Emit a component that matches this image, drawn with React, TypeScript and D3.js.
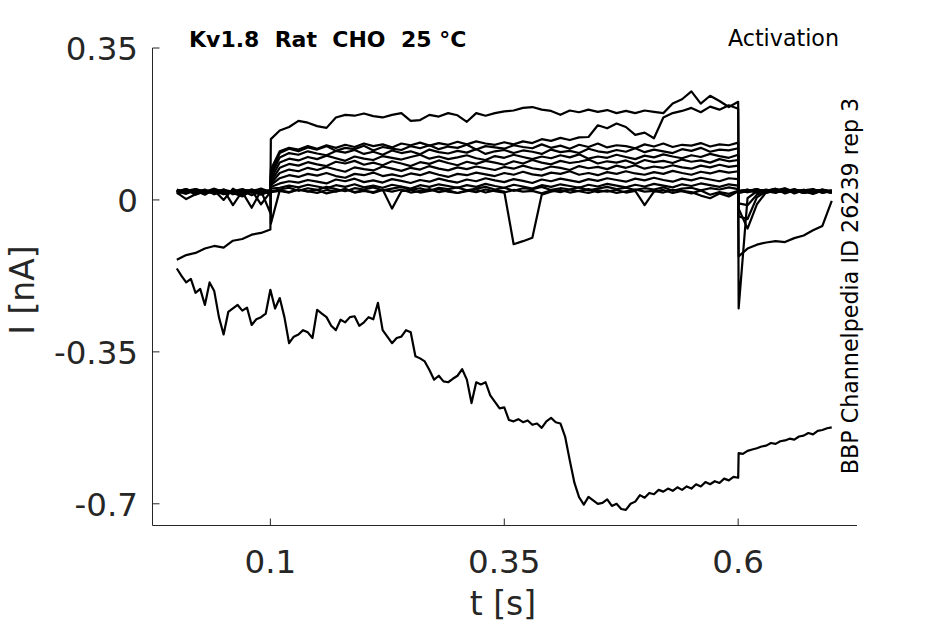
import React from 'react';
import * as d3 from 'd3';

// sampling grid: 10 ms steps, with an extra sample just after each voltage step edge
const T = [
  ...d3.range(0, 0.1001, 0.01),
  0.1005,
  ...d3.range(0.11, 0.6001, 0.01),
  0.6005,
  ...d3.range(0.61, 0.7001, 0.01),
];
// finer 5 ms grid for the drifting sweep
const TF = [...d3.range(0, 0.6001, 0.005), 0.6005, ...d3.range(0.605, 0.7001, 0.005)];

const xTicks = [0.1, 0.35, 0.6];
const yTicks = [0.35, 0, -0.35, -0.7];

// each sweep on T: 11 pre-step values, onset, 50 step values, offset, 10 tail values
const traceA = [
  0.024, 0.017, 0.022, 0.012, 0.025, 0.019, 0.015, 0.023, 0.02, 0.026, 0.018,
  0.14,
  0.16, 0.168, 0.182, 0.178, 0.17, 0.166, 0.19, 0.196, 0.194, 0.199,
  0.193, 0.19, 0.196, 0.2, 0.182, 0.184, 0.196, 0.192, 0.2, 0.195,
  0.18, 0.2, 0.194, 0.2, 0.204, 0.206, 0.212, 0.214, 0.208, 0.205,
  0.196, 0.206, 0.202, 0.208, 0.203, 0.207, 0.2, 0.205, 0.2, 0.206,
  0.203, 0.2, 0.222, 0.232, 0.25, 0.222, 0.24, 0.228, 0.214, 0.226,
  0.022,
  0.02, 0.025, 0.018, 0.022, 0.027, 0.019, 0.023, 0.016, 0.024, 0.02,
];

const traceB = [
  0.019, 0.025, 0.016, 0.022, 0.018, 0.024, 0.013, 0.021, 0.017, 0.023, 0.02,
  0.07,
  0.112, 0.12, 0.116, 0.124, 0.118, 0.126, 0.12, 0.127, 0.122, 0.13,
  0.124, 0.128, 0.121, 0.13, 0.126, 0.132, 0.125, 0.131, 0.127, 0.134,
  0.128, 0.135, 0.13, 0.127, 0.133, 0.128, 0.135, 0.131, 0.14, 0.136,
  0.143, 0.138, 0.144, 0.145, 0.172, 0.165, 0.176, 0.168, 0.15, 0.155,
  0.142, 0.19, 0.2, 0.205, 0.212, 0.202, 0.215, 0.208, 0.218, 0.21,
  0.02,
  0.023, 0.017, 0.021, 0.026, 0.015, 0.022, 0.019, 0.024, 0.018, 0.021,
];

const traceC1 = [
  0.021, 0.016, 0.024, 0.019, 0.022, 0.015, 0.02, 0.025, 0.017, 0.022, 0.019,
  0.06,
  0.108, 0.118, 0.112, 0.121, 0.116, 0.124, 0.113, 0.12, 0.117, 0.125,
  0.114, 0.122, 0.118, 0.115, 0.124, 0.119, 0.126, 0.117, 0.123, 0.12,
  0.127, 0.116, 0.124, 0.121, 0.118, 0.126, 0.122, 0.119, 0.128, 0.12,
  0.125, 0.118, 0.127, 0.122, 0.13, 0.121, 0.126, 0.124, 0.119, 0.128,
  0.123, 0.13, 0.122, 0.127, 0.125, 0.131, 0.123, 0.128, 0.126, 0.132,
  0.021,
  0.018, 0.023, 0.02, 0.025, 0.017, 0.022, 0.019, 0.024, 0.016, 0.021,
];

const traceC2 = [
  0.02, 0.014, 0.023, 0.018, 0.026, 0.016, 0.021, 0.012, 0.024, 0.019, 0.022,
  0.055,
  0.098, 0.108, 0.104, 0.112, 0.107, 0.103, 0.113, 0.109, 0.115, 0.106,
  0.111, 0.104, 0.114, 0.108, 0.112, 0.105, 0.116, 0.11, 0.107, 0.113,
  0.109, 0.117, 0.106, 0.112, 0.115, 0.108, 0.114, 0.111, 0.106, 0.116,
  0.11, 0.113, 0.108, 0.118, 0.112, 0.109, 0.115, 0.111, 0.119, 0.11,
  0.116, 0.112, 0.108, 0.117, 0.113, 0.12, 0.111, 0.116, 0.114, 0.119,
  0.019,
  0.024, 0.017, 0.022, 0.02, 0.026, 0.015, 0.023, 0.019, 0.021, 0.017,
];

const traceC3 = [
  0.017, 0.002, 0.013, 0.02, 0.015, 0.024, 0.018, 0.021, 0.011, 0.02, 0.016,
  0.048,
  0.086, 0.095, 0.091, 0.099, 0.094, 0.102, 0.096, 0.09, 0.1, 0.095,
  0.092, 0.101, 0.097, 0.093, 0.099, 0.104, 0.095, 0.1, 0.094, 0.098,
  0.103, 0.096, 0.092, 0.101, 0.097, 0.104, 0.099, 0.094, 0.1, 0.096,
  0.103, 0.098, 0.105, 0.095, 0.1, 0.097, 0.104, 0.099, 0.094, 0.102,
  0.098, 0.105, 0.1, 0.096, 0.103, 0.099, 0.106, 0.101, 0.097, 0.104,
  0.017,
  0.021, 0.025, 0.016, 0.022, 0.018, 0.023, 0.02, 0.014, 0.022, 0.019,
];

const traceC4 = [
  0.023, 0.018, 0.021, 0.015, 0.022, 0.0, 0.026, 0.014, 0.02, 0.017, 0.023,
  0.042,
  0.074, 0.083, 0.079, 0.087, 0.082, 0.078, 0.088, 0.084, 0.09, 0.081,
  0.086, 0.08, 0.089, 0.084, 0.078, 0.087, 0.083, 0.091, 0.085, 0.08,
  0.088, 0.083, 0.09, 0.086, 0.081, 0.089, 0.084, 0.092, 0.086, 0.082,
  0.09, 0.085, 0.088, 0.093, 0.084, 0.089, 0.086, 0.091, 0.083, 0.092,
  0.087, 0.09, 0.085, 0.093, 0.088, 0.091, 0.086, 0.094, 0.089, 0.092,
  0.021,
  0.018, 0.023, 0.02, 0.016, 0.024, 0.019, 0.022, 0.025, 0.017, 0.021,
];

const traceC5 = [
  0.015, 0.021, 0.018, 0.024, 0.013, 0.02, 0.016, 0.022, 0.019, 0.012, 0.02,
  0.038,
  0.062, 0.07, 0.066, 0.074, 0.069, 0.076, 0.07, 0.065, 0.075, 0.071,
  0.068, 0.077, 0.072, 0.067, 0.074, 0.07, 0.078, 0.072, 0.068, 0.075,
  0.071, 0.077, 0.073, 0.069, 0.076, 0.072, 0.079, 0.073, 0.07, 0.077,
  0.074, 0.069, 0.078, 0.073, 0.076, 0.071, 0.079, 0.074, 0.08, 0.072,
  0.077, 0.074, 0.08, 0.075, 0.072, 0.079, 0.075, 0.081, 0.076, 0.079,
  -0.008,
  -0.012, 0.012, 0.022, 0.018, 0.024, 0.017, 0.021, 0.019, 0.023, 0.018,
];

const traceC6 = [
  0.021, 0.016, 0.025, 0.019, 0.017, 0.023, -0.012, 0.02, 0.022, 0.018, 0.015,
  0.034,
  0.05, 0.057, 0.053, 0.06, 0.056, 0.062, 0.055, 0.051, 0.06, 0.057,
  0.063, 0.055, 0.059, 0.054, 0.061, 0.057, 0.064, 0.058, 0.053, 0.06,
  0.057, 0.063, 0.059, 0.055, 0.062, 0.058, 0.065, 0.059, 0.056, 0.063,
  0.06, 0.066, 0.058, 0.062, 0.057, 0.064, 0.06, 0.066, 0.061, 0.058,
  0.064, 0.06, 0.067, 0.062, 0.058, 0.065, 0.061, 0.067, 0.063, 0.066,
  0.016,
  0.02, 0.024, 0.017, 0.022, 0.019, 0.025, 0.016, 0.021, 0.018, 0.023,
];

const traceC7 = [
  0.018, 0.024, 0.012, 0.02, 0.023, 0.016, 0.021, 0.018, -0.018, 0.021, 0.019,
  0.03,
  0.038, 0.043, 0.04, 0.046, 0.042, 0.038, 0.047, 0.043, 0.049, 0.041,
  0.045, 0.04, 0.048, 0.044, 0.039, 0.046, 0.042, 0.049, 0.044, 0.04,
  0.047, 0.043, 0.05, 0.045, 0.041, 0.048, 0.044, 0.039, 0.047, 0.043,
  0.049, 0.045, 0.041, 0.048, 0.044, 0.05, 0.046, 0.042, 0.049, 0.045,
  0.051, 0.046, 0.042, 0.049, 0.045, 0.051, 0.047, 0.043, 0.05, 0.048,
  -0.038,
  -0.044, 0.006, 0.02, 0.024, 0.018, 0.022, 0.016, 0.023, 0.02, 0.017,
];

const traceC8 = [
  0.022, 0.017, 0.02, 0.014, 0.023, 0.019, 0.016, 0.024, 0.018, 0.021, -0.03,
  0.026,
  0.028, 0.033, 0.029, 0.035, 0.031, 0.027, 0.034, 0.03, 0.036, 0.029,
  0.033, 0.028, 0.035, 0.031, 0.026, 0.034, 0.03, 0.036, 0.032, 0.028,
  0.034, 0.03, 0.037, 0.032, 0.028, 0.035, 0.031, 0.026, 0.034, 0.03,
  0.036, 0.032, 0.028, 0.035, 0.031, 0.037, 0.033, 0.029, 0.035, 0.031,
  0.037, 0.033, 0.029, 0.036, 0.032, 0.038, 0.034, 0.03, 0.036, 0.033,
  -0.02,
  -0.066, -0.01, 0.018, 0.022, 0.017, 0.024, 0.02, 0.015, 0.022, 0.019,
];

// sweep with the transient dip at ~0.36 s
const traceD = [
  0.016, 0.021, 0.025, 0.017, 0.02, 0.013, 0.022, 0.018, 0.024, 0.016, 0.021,
  0.018,
  0.021, 0.017, 0.024, 0.019, 0.023, 0.015, 0.02, 0.025, 0.018, 0.022,
  0.016, 0.023, 0.019, 0.024, 0.017, 0.021, 0.025, 0.018, 0.022, 0.016,
  0.02, 0.024, 0.017, 0.022, 0.019, -0.102, -0.095, -0.087, 0.012, 0.019,
  0.023, 0.017, 0.021, 0.025, 0.018, 0.022, 0.016, 0.02, 0.024, 0.019,
  0.021, 0.017, 0.023, 0.02, 0.015, 0.022, 0.012, 0.018, 0.014, 0.021,
  0.02,
  0.023, 0.017, 0.021, 0.025, 0.019, 0.022, 0.016, 0.02, 0.024, 0.018,
];

// sweep starting below zero, with the slow tail after the step
const traceE = [
  -0.138, -0.127, -0.122, -0.112, -0.106, -0.11, -0.094, -0.09, -0.08, -0.076, -0.068,
  0.02,
  0.024, 0.028, 0.021, 0.027, 0.023, 0.03, 0.025, 0.02, 0.027, 0.024,
  0.029, 0.022, 0.026, 0.03, 0.023, 0.027, 0.021, 0.028, 0.025, 0.029,
  0.022, 0.026, 0.03, 0.024, 0.028, 0.021, 0.027, 0.025, 0.03, 0.023,
  0.027, 0.024, 0.029, 0.022, 0.026, 0.03, 0.025, 0.028, 0.023, 0.027,
  0.024, 0.029, 0.021, 0.026, 0.028, 0.022, 0.027, 0.024, 0.029, 0.025,
  -0.13,
  -0.112, -0.103, -0.098, -0.095, -0.097, -0.088, -0.082, -0.07, -0.06, -0.002,
];

// baseline sweep with the tail spike at 0.6 s
const traceG = [
  0.019, 0.025, 0.014, 0.021, 0.018, 0.023, 0.016, 0.008, 0.022, -0.01, 0.018,
  -0.055,
  0.022, 0.018, 0.024, 0.02, 0.016, 0.023, 0.019, 0.025, 0.017, 0.021,
  0.018, 0.024, -0.02, 0.02, 0.023, 0.017, 0.021, 0.025, 0.019, 0.016,
  0.022, 0.018, 0.024, 0.02, 0.017, 0.023, 0.019, 0.021, 0.015, 0.022,
  0.018, 0.024, 0.02, 0.016, 0.022, 0.019, 0.023, 0.017, 0.021, -0.012,
  0.019, 0.023, 0.016, 0.021, 0.018, 0.01, 0.004, 0.015, 0.008, 0.02,
  -0.25,
  0.004, 0.02, 0.024, 0.018, 0.022, 0.017, 0.023, 0.019, 0.021, 0.016,
];

// drifting sweep on TF (5 ms): 121 values to 0.6 s, offset, 20 tail values
const traceF = [
  -0.158, -0.175, -0.19, -0.182, -0.214, -0.205, -0.242, -0.19, -0.21, -0.27,
  -0.31, -0.258, -0.25, -0.242, -0.255, -0.248, -0.288, -0.275, -0.27, -0.262,
  -0.207, -0.25, -0.226, -0.27, -0.33, -0.315, -0.31, -0.3, -0.305, -0.318,
  -0.253, -0.262, -0.27, -0.29, -0.3, -0.276, -0.282, -0.27, -0.268, -0.29,
  -0.282, -0.27, -0.275, -0.237, -0.3, -0.315, -0.33, -0.318, -0.315, -0.3,
  -0.305, -0.36, -0.365, -0.372, -0.392, -0.414, -0.405, -0.418, -0.42, -0.412,
  -0.405, -0.39, -0.414, -0.468, -0.42, -0.425, -0.42, -0.45, -0.465, -0.48,
  -0.478, -0.507, -0.51, -0.505, -0.512, -0.508, -0.518, -0.515, -0.525, -0.51,
  -0.502, -0.512, -0.515, -0.545, -0.6, -0.652, -0.685, -0.702, -0.684, -0.692,
  -0.7, -0.698, -0.69, -0.705, -0.7, -0.712, -0.714, -0.7, -0.695, -0.68,
  -0.686, -0.675, -0.678, -0.668, -0.672, -0.665, -0.67, -0.662, -0.668, -0.66,
  -0.665, -0.655, -0.66, -0.65, -0.655, -0.648, -0.652, -0.642, -0.646, -0.638,
  -0.64,
  -0.583,
  -0.585, -0.578, -0.575, -0.572, -0.568, -0.566, -0.56, -0.562, -0.556, -0.554,
  -0.55, -0.552, -0.545, -0.543, -0.537, -0.54, -0.532, -0.53, -0.526, -0.524,
];

const sweeps: [number[], number[]][] = [
  [T, traceA], [T, traceB], [T, traceC1], [T, traceC2], [T, traceC3], [T, traceC4], [T, traceC5],
  [T, traceC6], [T, traceC7], [T, traceC8], [T, traceD], [T, traceE], [T, traceG], [TF, traceF],
];

const W = 945;
const H = 624;
const left = 152.5;
const right = 857;
const top = 48;
const bottom = 525.5;
const ink = '#262626';
const font = 'DejaVu Sans, sans-serif';

const App = () => {
  const x = d3.scaleLinear().domain([-0.026, 0.727]).range([left, right]);
  const y = d3.scaleLinear().domain([-0.75, 0.35]).range([bottom, top]);

  const line = d3
    .line<[number, number]>()
    .x((d) => x(d[0]))
    .y((d) => y(d[1]));

  return (
    <svg width={W} height={H} style={{ position: 'absolute', left: 0, top: 0, background: '#fff' }}>
      <g fill="none" stroke="#000" strokeWidth={2.2} strokeLinejoin="round">
        {sweeps.map(([ts, vs], i) => {
          const n = Math.min(ts.length, vs.length);
          const pts = d3.range(n).map((j) => [ts[j], vs[j]] as [number, number]);
          return <path key={i} d={line(pts) || ''} />;
        })}
      </g>

      {/* axes */}
      <g stroke={ink} strokeWidth={1}>
        <line x1={left} x2={left} y1={top} y2={bottom} />
        <line x1={left} x2={right} y1={bottom} y2={bottom} />
        {xTicks.map((t) => (
          <line key={t} x1={x(t)} x2={x(t)} y1={bottom} y2={bottom - 7} />
        ))}
        {yTicks.map((t) => (
          <line key={t} x1={left} x2={left + 7} y1={y(t)} y2={y(t)} />
        ))}
      </g>

      <g fill={ink} fontFamily={font} fontSize={32.5}>
        {xTicks.map((t) => (
          <text key={t} x={x(t)} y={573} textAnchor="middle">
            {String(t)}
          </text>
        ))}
        {yTicks.map((t) => (
          <text key={t} x={138} y={y(t) + 12} textAnchor="end">
            {String(t)}
          </text>
        ))}
        <text x={503} y={615} textAnchor="middle" fontSize={33}>
          t [s]
        </text>
        <text transform="translate(34,290) rotate(-90)" textAnchor="middle" fontSize={33}>
          I [nA]
        </text>
      </g>

      <text x={189} y={47} fontFamily={font} fontSize={22} fontWeight="bold" fill="#000" style={{ whiteSpace: 'pre' }}>
        {'Kv1.8  Rat  CHO  25 °C'}
      </text>
      <text x={839} y={46} fontFamily={font} fontSize={22.2} fill="#000" textAnchor="end">
        Activation
      </text>
      <text transform="translate(858,286) rotate(-90)" fontFamily={font} fontSize={22.2} fill="#000" textAnchor="middle">
        BBP Channelpedia ID 26239 rep 3
      </text>
    </svg>
  );
};

export default App;
